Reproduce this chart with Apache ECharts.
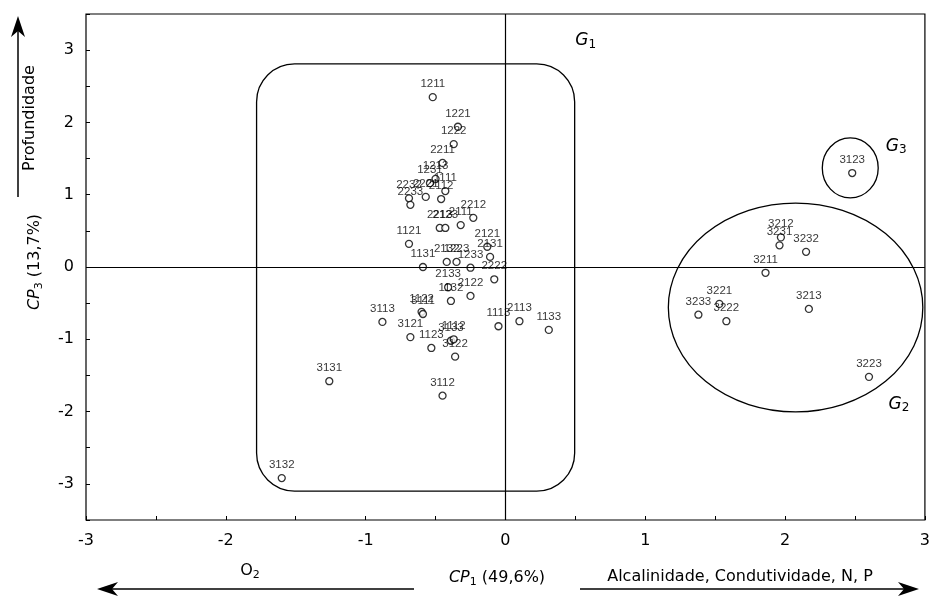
<!DOCTYPE html>
<html>
<head>
<meta charset="utf-8">
<title>CP1 x CP3</title>
<script src="https://cdn.jsdelivr.net/npm/echarts@6/dist/echarts.min.js"></script>
<style>
html, body { margin: 0; padding: 0; background: #fff; }
#main { width: 933px; height: 599px; }
</style>
</head>
<body>
<div id="main"></div>
<script>
// codes of the sampling units and their scores on CP1 / CP3
var pointCodes = ['1211', '1221', '1222', '2211', '1213', '1231', '1111', '2112', '2232', '2221',
    '2233', '2212', '2213', '2123', '2111', '1121', '2121', '2131', '1131', '2132',
    '1223', '1233', '2222', '2133', '2122', '1132', '1122', '3113', '3111', '3121',
    '1123', '3133', '1112', '3122', '1113', '2113', '1133', '3112', '3131', '3132',
    '3123', '3212', '3231', '3232', '3211', '3221', '3233', '3222', '3213', '3223'];
var pointX = [-0.52, -0.34, -0.37, -0.45, -0.50, -0.54, -0.43, -0.46, -0.69, -0.57,
    -0.68, -0.23, -0.47, -0.43, -0.32, -0.69, -0.13, -0.11, -0.59, -0.42,
    -0.35, -0.25, -0.08, -0.41, -0.25, -0.39, -0.60, -0.88, -0.59, -0.68,
    -0.53, -0.39, -0.37, -0.36, -0.05, 0.10, 0.31, -0.45, -1.26, -1.60,
    2.48, 1.97, 1.96, 2.15, 1.86, 1.53, 1.38, 1.58, 2.17, 2.60];
var pointY = [2.35, 1.94, 1.70, 1.44, 1.22, 1.16, 1.05, 0.94, 0.95, 0.97,
    0.86, 0.68, 0.54, 0.54, 0.58, 0.32, 0.28, 0.14, 0.00, 0.07,
    0.07, -0.01, -0.17, -0.28, -0.40, -0.47, -0.62, -0.76, -0.65, -0.97,
    -1.12, -1.02, -1.00, -1.24, -0.82, -0.75, -0.87, -1.78, -1.58, -2.92,
    1.30, 0.41, 0.30, 0.21, -0.08, -0.51, -0.66, -0.75, -0.58, -1.52];

// group outlines (data units)
var g1Box = [-1.78, 2.81, 0.495, -3.10];       // x0, y0, x1, y1
var g2Ellipse = [2.075, -0.56, 0.91, 1.445];    // cx, cy, rx, ry
var g3Ellipse = [2.466, 1.37, 0.20, 0.415];
var groupLabels = ['1', '2', '3'];
var groupLabelPos = [[0.50, 3.13], [2.74, -1.90], [2.72, 1.67]];

var data = [];
for (var i = 0; i < pointCodes.length; i++) {
    data.push([pointX[i], pointY[i], pointCodes[i]]);
}

function ellipsePath(api, e) {
    var c = api.coord([e[0], e[1]]);
    var p = api.coord([e[0] + e[2], e[1] + e[3]]);
    var rx = Math.abs(p[0] - c[0]), ry = Math.abs(p[1] - c[1]);
    return 'M' + (c[0] - rx) + ' ' + c[1] +
        ' A' + rx + ' ' + ry + ' 0 1 0 ' + (c[0] + rx) + ' ' + c[1] +
        ' A' + rx + ' ' + ry + ' 0 1 0 ' + (c[0] - rx) + ' ' + c[1] + ' Z';
}

var intLabel = function (v) {
    return Math.abs(v - Math.round(v)) < 1e-9 ? String(Math.round(v)) : '';
};

var subRich = {
    n: { fontSize: 16, fontFamily: 'DejaVu Sans', lineHeight: 20, color: '#000' },
    it: { fontSize: 16, fontFamily: 'DejaVu Sans', fontStyle: 'italic', lineHeight: 20, color: '#000' },
    s: { fontSize: 11, fontFamily: 'DejaVu Sans', verticalAlign: 'bottom', lineHeight: 11, color: '#000' }
};

var chart = echarts.init(document.getElementById('main'));
chart.setOption({
    backgroundColor: '#fff',
    animation: false,
    textStyle: { fontFamily: 'DejaVu Sans' },
    grid: {
        left: 86, right: 4, top: 14, bottom: 79,
        show: true, borderColor: '#000', borderWidth: 1.2
    },
    xAxis: {
        type: 'value', min: -3, max: 3, interval: 0.5,
        axisLine: { show: false, onZero: false },
        splitLine: { show: false },
        axisTick: { inside: true, length: 4, lineStyle: { color: '#000' } },
        axisLabel: { formatter: intLabel, fontSize: 16, color: '#000', margin: 13 }
    },
    yAxis: {
        type: 'value', min: -3.5, max: 3.5, interval: 0.5,
        axisLine: { show: false, onZero: false },
        splitLine: { show: false },
        axisTick: { inside: true, length: 4, lineStyle: { color: '#000' } },
        axisLabel: { formatter: intLabel, fontSize: 16, color: '#000', margin: 12 }
    },
    series: [{
        type: 'custom',
        silent: true,
        clip: false,
        z: 1,
        data: [[0, 0]],
        renderItem: function (params, api) {
            var a = api.coord([g1Box[0], g1Box[1]]);
            var b = api.coord([g1Box[2], g1Box[3]]);
            var line = { fill: 'none', stroke: '#000', lineWidth: 1.3 };
            var kids = [
                { type: 'rect', shape: { x: a[0], y: a[1], width: b[0] - a[0], height: b[1] - a[1], r: 38 }, style: line },
                { type: 'path', shape: { pathData: ellipsePath(api, g2Ellipse) }, style: line },
                { type: 'path', shape: { pathData: ellipsePath(api, g3Ellipse) }, style: line }
            ];
            for (var k = 0; k < groupLabels.length; k++) {
                var p = api.coord(groupLabelPos[k]);
                kids.push({
                    type: 'text', x: p[0], y: p[1],
                    style: {
                        text: '{g|G}{s|' + groupLabels[k] + '}',
                        align: 'left', verticalAlign: 'middle',
                        rich: {
                            g: { fontSize: 17, fontStyle: 'italic', fontFamily: 'DejaVu Sans', lineHeight: 20, color: '#000' },
                            s: { fontSize: 12, fontFamily: 'DejaVu Sans', verticalAlign: 'bottom', lineHeight: 11, color: '#000' }
                        }
                    }
                });
            }
            return { type: 'group', children: kids };
        }
    }, {
        type: 'scatter',
        z: 3,
        data: data,
        symbol: 'circle',
        symbolSize: 7,
        itemStyle: { color: '#fff', borderColor: '#000', borderWidth: 1.3 },
        label: {
            show: true, position: 'top', distance: 3,
            formatter: function (p) { return p.data[2]; },
            fontFamily: 'Liberation Sans', fontSize: 11.5, color: '#000'
        },
        markLine: {
            silent: true, symbol: 'none', animation: false,
            label: { show: false },
            lineStyle: { color: '#000', type: 'solid', width: 1.2 },
            data: [{ xAxis: 0 }, { yAxis: 0 }]
        }
    }],
    graphic: [
        // vertical arrow + labels on the left
        { type: 'line', shape: { x1: 18, y1: 197, x2: 18, y2: 30 }, style: { stroke: '#000', lineWidth: 1.5 } },
        { type: 'polygon', shape: { points: [[18, 16], [11, 37], [18, 31], [25, 37]] }, style: { fill: '#000' } },
        {
            type: 'text', x: 30, y: 118, rotation: Math.PI / 2,
            style: { text: 'Profundidade', font: '16px "DejaVu Sans"', fill: '#000', align: 'center', verticalAlign: 'middle' }
        },
        {
            type: 'text', x: 35, y: 262, rotation: Math.PI / 2,
            style: { text: '{it|CP}{s|3}{n| (13,7%)}', rich: subRich, align: 'center', verticalAlign: 'middle' }
        },
        // bottom arrows + labels
        { type: 'line', shape: { x1: 414, y1: 589, x2: 104, y2: 589 }, style: { stroke: '#000', lineWidth: 1.5 } },
        { type: 'polygon', shape: { points: [[97, 589], [118, 582], [112, 589], [118, 596]] }, style: { fill: '#000' } },
        { type: 'line', shape: { x1: 580, y1: 589, x2: 912, y2: 589 }, style: { stroke: '#000', lineWidth: 1.5 } },
        { type: 'polygon', shape: { points: [[919, 589], [898, 582], [904, 589], [898, 596]] }, style: { fill: '#000' } },
        {
            type: 'text', x: 250, y: 571,
            style: { text: '{n|O}{s|2}', rich: subRich, align: 'center', verticalAlign: 'middle' }
        },
        {
            type: 'text', x: 497, y: 578,
            style: { text: '{it|CP}{s|1}{n| (49,6%)}', rich: subRich, align: 'center', verticalAlign: 'middle' }
        },
        {
            type: 'text', x: 740, y: 577,
            style: { text: 'Alcalinidade, Condutividade, N, P', font: '16px "DejaVu Sans"', fill: '#000', align: 'center', verticalAlign: 'middle' }
        }
    ]
});
</script>
</body>
</html>
